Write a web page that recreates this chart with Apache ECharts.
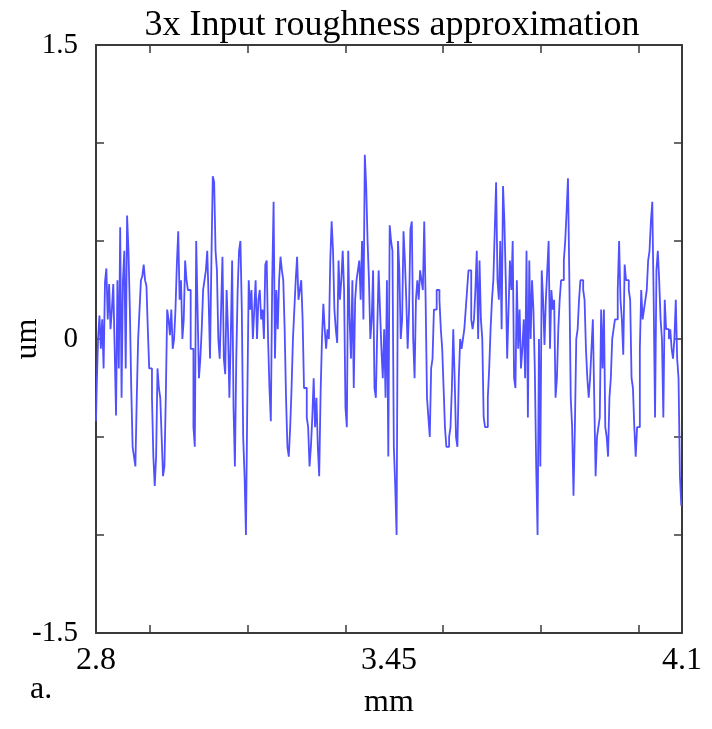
<!DOCTYPE html>
<html>
<head>
<meta charset="utf-8">
<script src="https://cdn.jsdelivr.net/npm/echarts@6/dist/echarts.min.js"></script>
<style>
html,body{margin:0;padding:0;background:#fff;}
#chart{width:712px;height:729px;}
</style>
</head>
<body>
<div id="chart"></div>
<script>
const xStart = 2.8;
const xEnd = 4.1;
const xLabelValues = [2.8, 3.45, 4.1];
const xTickValues = [2.92, 3.137, 3.354, 3.57, 3.787, 4.003];
const yLabelValues = [-1.5, 0, 1.5];

const roughness = [
  -0.42, -0.25, 0.0, 0.12, -0.05, 0.1, -0.15, 0.29, 0.36, 0.1, 0.28, 0.05, 0.15, 0.28, -0.05, -0.39, 0.3, -0.15, 0.57, -0.3,
  0.3, 0.45, -0.15, 0.63, 0.45, 0.15, -0.25, -0.55, -0.6, -0.65, -0.3, 0.0, 0.15, 0.3, 0.32, 0.38, 0.3, 0.27, 0.05, -0.15,
  -0.15, -0.3, -0.6, -0.75, -0.6, -0.15, -0.25, -0.3, -0.5, -0.7, -0.65, -0.3, 0.15, 0.1, 0.02, 0.15, -0.05, 0.0, 0.15, 0.38, 0.55,
  0.2, 0.3, 0.0, 0.1, 0.4, 0.3, 0.25, 0.25, -0.05, -0.05, -0.45, -0.55, 0.5, 0.15, -0.2, -0.1, 0.05, 0.25, 0.3, 0.35,
  0.45, 0.2, -0.1, 0.4, 0.83, 0.8, 0.45, 0.35, 0.0, -0.1, 0.15, 0.42, -0.1, -0.18, 0.25, 0.05, -0.3, 0.0, 0.4, -0.35,
  -0.65, -0.1, 0.25, 0.45, 0.5, 0.15, -0.5, -0.7, -1.0, -0.3, 0.3, 0.15, 0.25, 0.0, 0.15, 0.3, 0.0, 0.2, 0.25, 0.1,
  0.15, 0.0, 0.38, 0.4, 0.0, -0.25, -0.42, 0.3, 0.7,
  -0.1, 0.25, 0.05, 0.3, 0.42, 0.35, 0.3, 0.05, -0.3, -0.55, -0.6, -0.45, -0.25, 0.0, 0.15, 0.3, 0.42, 0.2, 0.25, 0.3,
  0.1, -0.25, -0.25, -0.4, -0.45, -0.65, -0.55, -0.4, -0.2, -0.45, -0.3, -0.55, -0.7, -0.28, 0.0, 0.18, 0.05, -0.05, 0.05, 0.0,
  0.4, 0.6, 0.45, 0.15, 0.05, -0.02, 0.4, 0.2, 0.3, 0.45, 0.25, -0.35, -0.45, 0.45, 0.1, -0.1, 0.3,
  -0.25, 0.2, 0.3, 0.35, 0.4, 0.2, 0.5, 0.1, 0.94, 0.78, 0.5, 0.3, 0.0, 0.1, 0.35, -0.25, -0.3, 0.05, 0.35, 0.15,
  -0.05, -0.2, 0.05, -0.3, 0.3, -0.6, 0.58, 0.5, 0.45, -0.55, -0.75, -1.0, 0.5, 0.35, 0.0, 0.1, 0.55, 0.4, 0.2, -0.05,
  0.15, 0.56, 0.6, 0.0, -0.2, 0.2, 0.3, 0.2, 0.35, 0.3, 0.25, 0.6, 0.2, -0.3, -0.4, -0.5, -0.15, -0.1, 0.15,
  0.15, 0.25, 0.25, 0.2, 0.05, -0.05, -0.25, -0.45, -0.55, -0.55, -0.5, -0.45, -0.25, 0.05, -0.2, -0.5, -0.55, -0.2, 0.0, -0.05,
  0.0, 0.05, 0.15, 0.25, 0.35, 0.35, 0.1, 0.05, 0.1, 0.25, 0.45, 0.0, 0.4, 0.1, 0.0, -0.4, -0.45, -0.45, -0.3, -0.15,
  0.05, 0.2, 0.3, 0.55, 0.8, 0.3, 0.2, 0.5, 0.05, 0.78, 0.6, 0.3, -0.1, 0.15, 0.4, 0.25, 0.5, -0.2,
  -0.25, 0.3, -0.05, 0.15, -0.15, -0.05, 0.1, -0.2, 0.45, -0.4, 0.4, 0.0, 0.3, 0.15, -0.15, -0.65, -1.0, 0.0, -0.65, 0.35,
  0.2, -0.03, 0.2, 0.35, 0.5, -0.05, 0.25, 0.15, 0.2, -0.3, -0.2, 0.05, 0.2, 0.3, 0.3, 0.4, 0.5, 0.65, 0.82, 0.3,
  -0.3, -0.45, -0.8, -0.45, 0.0, 0.05, 0.2, 0.3, 0.3, 0.25, 0.2, -0.05, -0.2, -0.3, -0.2, -0.05, 0.1, -0.3, -0.7, -0.5,
  -0.45, -0.4, 0.15,
  -0.15, 0.15, -0.45, -0.5, -0.6, -0.3, -0.2, 0.0, 0.05, 0.1, 0.1, 0.25, 0.5, 0.2, 0.1, -0.08, 0.38, 0.3, 0.3, 0.25,
  0.2, -0.2, -0.25, -0.45, -0.6, -0.45, -0.45, -0.05, 0.25, 0.1, 0.15, 0.2, 0.25, 0.4, 0.45, 0.6, 0.7, 0.2, -0.4, 0.35,
  0.45, 0.3, 0.1, 0.0, -0.4, 0.2, 0.05, 0.05, 0.0, 0.05, -0.05, -0.1, 0.0, 0.2, -0.1, -0.2, -0.7, -0.85
];

const n = roughness.length;
const seriesData = roughness.map((v, i) => [xStart + (xEnd - xStart) * i / (n - 1), v]);

const serif = '"Liberation Serif", "DejaVu Serif", serif';
const axisColor = '#3a3a3a';

const chart = echarts.init(document.getElementById('chart'), null, {renderer: 'canvas'});
chart.setOption({
  animation: false,
  backgroundColor: '#ffffff',
  title: {
    text: '3x Input roughness approximation',
    left: 387, top: 3, textAlign: 'center',
    textStyle: {fontFamily: serif, fontSize: 36, fontWeight: 'normal', color: '#000'}
  },
  grid: {left: 96, right: 30, top: 45, bottom: 96, containLabel: false, outerBoundsMode: 'none'},
  xAxis: [{
    type: 'value', min: xStart, max: xEnd,
    name: 'mm', nameLocation: 'middle', nameGap: 54,
    nameTextStyle: {fontFamily: serif, fontSize: 32, color: '#000'},
    axisLine: {show: true, onZero: false, lineStyle: {color: axisColor, width: 2}},
    axisTick: {show: true, inside: true, length: 8, customValues: xTickValues, lineStyle: {color: axisColor, width: 1.5}},
    axisLabel: {show: true, customValues: xLabelValues, margin: 12, fontFamily: serif, fontSize: 32, color: '#000'},
    splitLine: {show: false}
  }, {
    type: 'value', min: xStart, max: xEnd, position: 'top',
    axisLine: {show: true, onZero: false, lineStyle: {color: axisColor, width: 2}},
    axisTick: {show: true, inside: true, length: 8, customValues: xTickValues, lineStyle: {color: axisColor, width: 1.5}},
    axisLabel: {show: false},
    splitLine: {show: false}
  }],
  yAxis: [{
    type: 'value', min: -1.5, max: 1.5, interval: 0.5,
    axisLine: {show: true, onZero: false, lineStyle: {color: axisColor, width: 2}},
    axisTick: {show: true, inside: true, length: 8, lineStyle: {color: axisColor, width: 1.5}},
    axisLabel: {show: true, customValues: yLabelValues, margin: 18, fontFamily: serif, fontSize: 29, color: '#000'},
    splitLine: {show: false}
  }, {
    type: 'value', min: -1.5, max: 1.5, interval: 0.5, position: 'right',
    axisLine: {show: true, onZero: false, lineStyle: {color: axisColor, width: 2}},
    axisTick: {show: true, inside: true, length: 8, lineStyle: {color: axisColor, width: 1.5}},
    axisLabel: {show: false},
    splitLine: {show: false}
  }],
  graphic: [{
    type: 'text', left: 30, top: 674,
    style: {text: 'a.', font: '32px ' + serif, fill: '#000'}
  }, {
    type: 'text', x: 28, y: 339, rotation: Math.PI / 2,
    style: {text: 'um', font: '32px ' + serif, fill: '#000', align: 'center', verticalAlign: 'middle'}
  }],
  series: [{
    type: 'line',
    xAxisIndex: 0, yAxisIndex: 0,
    data: seriesData,
    step: 'middle',
    showSymbol: false,
    symbol: 'none',
    lineStyle: {color: '#5050ff', width: 1.8},
    z: 1
  }]
});
</script>
</body>
</html>
